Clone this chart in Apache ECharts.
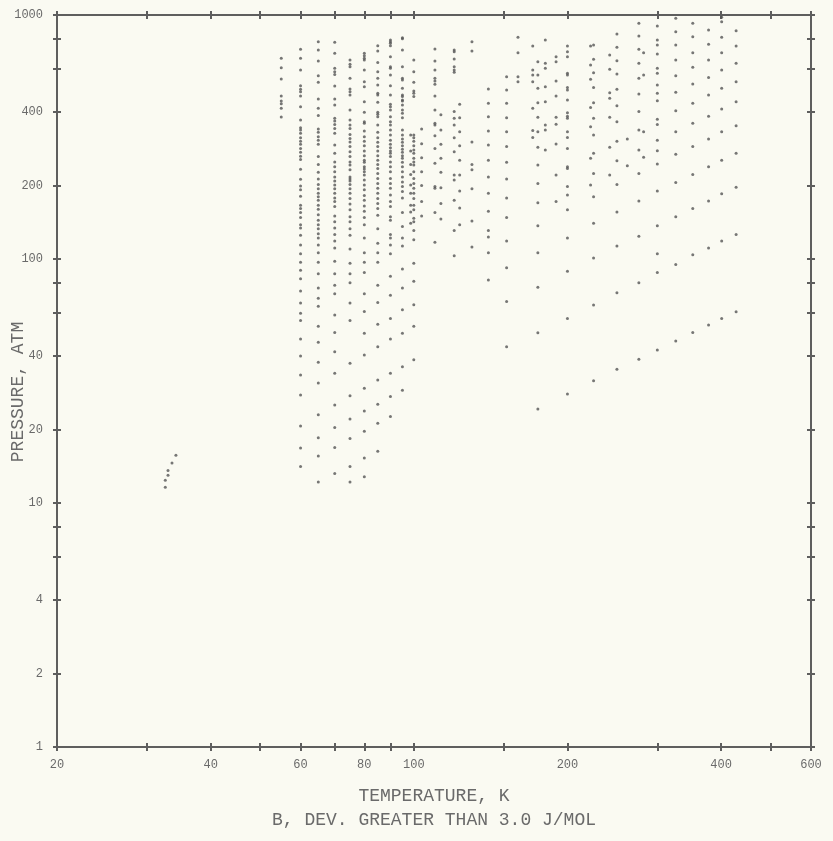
<!DOCTYPE html>
<html lang="en">
<head>
<meta charset="UTF-8">
<title>B, dev. greater than 3.0 J/mol</title>
<script src="https://cdn.jsdelivr.net/npm/echarts@6/dist/echarts.min.js"></script>
<style>
  html, body { margin: 0; padding: 0; background: #fafaf2; }
  #chart { width: 833px; height: 841px; }
</style>
</head>
<body>
<div id="chart"></div>
<script>
// tick and label positions
const xLabels = [20, 40, 60, 80, 100, 200, 400, 600];
const xTicks = [20, 30, 40, 50, 60, 70, 80, 90, 100, 150, 200, 300, 400, 500, 600];
const yLabels = [1, 2, 4, 10, 20, 40, 100, 200, 400, 1000];
const yTicks = [1, 2, 4, 6, 8, 10, 20, 40, 60, 80, 100, 200, 400, 600, 800, 1000];

// small group near 33 K
const lowT = [32.6, 32.6, 33, 33, 33.6, 34.2];
const lowP = [11.6, 12.4, 13, 13.6, 14.6, 15.7];

// pressures (atm) read along each isotherm
const p55 = [665, 608, 547, 466, 444, 433, 415, 382];
const p60 = [723, 665, 595, 513, 496, 485, 466, 421, 371, 345, 338, 328, 314, 304, 295, 284, 274, 264, 256, 233, 212, 199, 192, 181, 166, 161, 155, 148, 138, 134, 125, 114, 105, 97, 90, 83, 74, 66, 60, 56, 47, 40, 33.5, 27.7, 20.7, 16.8, 14.1];
const p65 = [777, 719, 648, 564, 530, 453, 415, 387, 341, 331, 317, 307, 295, 263, 244, 227, 213, 202, 194, 186, 180, 174, 166, 160, 152, 144, 138, 133, 127, 122, 114, 106, 97, 87, 76, 69, 64, 53, 45.6, 37.7, 31, 23, 18.5, 15.6, 12.2];
const p70 = [773, 697, 605, 586, 571, 512, 453, 428, 377, 368, 356, 343, 328, 293, 271, 250, 239, 228, 217, 209, 201, 194, 186, 178, 172, 164, 150, 142, 134, 126, 118.5, 111, 98, 87, 78, 72, 59, 50, 41.7, 34, 25.2, 20.4, 16.9, 13.2];
const p75 = [654, 628, 614, 550, 497, 485, 470, 408, 371, 354, 343, 324, 312, 302, 289, 275, 263, 250, 243, 232, 217, 213, 209, 202, 194, 186, 177, 168, 159, 149, 142, 133, 125, 110, 96, 87, 80, 66, 56, 37.4, 27.5, 22.1, 18.4, 14.1, 12.2];
const p80 = [697, 681, 665, 654, 595, 533, 508, 441, 399, 365, 360, 335, 317, 304, 291, 277, 265, 254, 249, 239, 234, 228, 221, 211, 201, 192, 182, 174, 165, 157, 148, 138, 122, 106, 97, 88, 72, 61, 49.6, 40.4, 29.5, 23.8, 19.7, 15.3, 12.8];
const p85 = [748, 712, 638, 586, 550, 517, 478, 470, 439, 399, 392, 383, 354, 331, 314, 301, 289, 277, 265, 254, 244, 235, 224, 214, 204, 195, 186, 177, 169, 161, 151, 133, 116, 106, 97, 78, 66.4, 54, 43.7, 31.9, 25.4, 21.2, 16.3];
const p90 = [790, 777, 766, 748, 675, 614, 605, 568, 513, 470, 431, 421, 408, 383, 365, 354, 338, 322, 307, 295, 286, 277, 271, 263, 250, 239, 228, 214, 204, 195, 183, 172, 164, 149, 144, 126, 122, 114, 105, 85, 71, 57, 47, 34, 27.3, 22.6];
const p95 = [807, 800, 719, 614, 550, 542, 501, 470, 463, 448, 444, 428, 408, 396, 379, 338, 322, 310, 301, 291, 282, 274, 265, 259, 249, 239, 228, 217, 207, 198, 189, 178, 155, 136, 122, 113, 91, 76, 62, 49.6, 36.2, 29];
const p98 = [322, 277, 244, 222, 201, 186, 166, 156, 140];
const p100 = [654, 586, 530, 488, 478, 463, 322, 314, 304, 291, 280, 271, 259, 250, 243, 228, 214, 204, 195, 186, 177, 166, 159, 147, 142, 131, 120, 96, 81, 65, 53, 38.6];
const p104 = [341, 297, 260, 228, 200, 172, 150];
const p110 = [725, 648, 595, 550, 536, 520, 466, 408, 360, 354, 320, 284, 247, 198, 195, 155, 117];
const p113 = [390, 338, 295, 259, 227, 196, 169, 146];
const p120 = [719, 707, 660, 614, 595, 582, 402, 377, 354, 314, 275, 221, 211, 174, 131, 103];
const p123 = [431, 379, 332, 291, 254, 221, 190, 162, 138];
const p130 = [777, 712, 302, 244, 232, 194, 143, 112];
const p140 = [497, 435, 383, 335, 293, 254, 217, 186, 157, 131, 123, 106, 82];
const p152 = [559, 493, 435, 379, 332, 289, 249, 213, 178, 148, 118.5, 92, 67, 43.7];
const p160 = [810, 701, 559, 533];
const p171 = [746, 595, 568, 533, 415, 336, 315];
const p175 = [644, 568, 501, 437, 381, 332, 287, 243, 204, 170, 137, 106, 76.6, 49.9, 24.3];
const p181 = [790, 634, 605, 508, 441, 354, 338, 280];
const p190 = [675, 644, 536, 466, 381, 357, 296, 221, 172];
const p200 = [746, 707, 675, 577, 568, 505, 493, 448, 398, 385, 377, 332, 315, 284, 239, 235, 198, 183, 159, 122, 89, 57, 28];
const p222 = [746, 624, 545, 418, 348, 259, 201];
const p225 = [754, 658, 580, 505, 437, 377, 322, 271, 224, 180, 140, 101, 64.8, 31.7];
const p242 = [686, 599, 480, 456, 381, 287, 221];
const p250 = [836, 737, 650, 573, 496, 425, 365, 304, 253, 202, 156, 113, 72.8, 35.3];
const p262 = [310, 241];
const p276 = [925, 820, 723, 634, 550, 475, 402, 338, 280, 224, 173, 124, 80, 38.8];
const p282 = [701, 568, 332, 261];
const p300 = [901, 790, 754, 692, 605, 577, 517, 478, 445, 374, 356, 307, 278, 245, 190, 137, 105, 88, 42.4];
const p326 = [969, 854, 754, 654, 564, 482, 405, 332, 269, 206, 149, 95, 46.1];
const p352 = [925, 815, 701, 611, 521, 435, 360, 289, 222, 161, 104, 50];
const p378 = [868, 758, 654, 555, 470, 385, 310, 239, 173, 111, 53.6];
const p401 = [979, 939, 810, 701, 595, 501, 412, 332, 254, 185, 118.5, 57];
const p428 = [862, 746, 634, 533, 441, 352, 271, 197, 126, 60.8];

const isotherms = [
    [55, p55], [60, p60], [65, p65], [70, p70], [75, p75], [80, p80], [85, p85],
    [90, p90], [95, p95], [98.6, p98], [100, p100], [103.6, p104], [110, p110],
    [113, p113], [120, p120], [123, p123], [130, p130], [140, p140], [152, p152],
    [160, p160], [171, p171], [175, p175], [181, p181], [190, p190], [200, p200],
    [222, p222], [225, p225], [242, p242], [250, p250], [262, p262], [276, p276],
    [282, p282], [300, p300], [326, p326], [352, p352], [378, p378], [401, p401],
    [428, p428]
];

let points = [];
lowT.forEach((t, i) => points.push([t, lowP[i]]));
isotherms.forEach(([t, ps]) => ps.forEach(p => points.push([t, p])));

const ink = '#5e5e5e';
const textInk = '#6a6a6a';

function xAxisOf(position, inside, labels) {
    return {
        type: 'log', logBase: 10, min: 20, max: 600, position: position,
        axisLine: { show: true, onZero: false, lineStyle: { color: ink, width: 2 } },
        axisTick: { show: true, inside: inside, length: 4, customValues: xTicks,
                    lineStyle: { color: ink, width: 2 } },
        axisLabel: { show: labels, customValues: xLabels, margin: 12,
                     color: textInk, fontSize: 12, fontFamily: 'Liberation Mono',
                     formatter: v => String(v) },
        splitLine: { show: false }
    };
}
function yAxisOf(position, inside, labels) {
    return {
        type: 'log', logBase: 10, min: 1, max: 1000, position: position,
        axisLine: { show: true, onZero: false, lineStyle: { color: ink, width: 2 } },
        axisTick: { show: true, inside: inside, length: 4, customValues: yTicks,
                    lineStyle: { color: ink, width: 2 } },
        axisLabel: { show: labels, customValues: yLabels, margin: 14,
                     color: textInk, fontSize: 12, fontFamily: 'Liberation Mono',
                     formatter: v => String(v) },
        splitLine: { show: false }
    };
}

const chart = echarts.init(document.getElementById('chart'));
chart.setOption({
    backgroundColor: '#fafaf2',
    animation: false,
    grid: { left: 57, right: 22, top: 15, bottom: 94, containLabel: false, outerBoundsMode: 'none' },
    xAxis: [xAxisOf('bottom', false, true), xAxisOf('bottom', true, false),
            xAxisOf('top', false, false), xAxisOf('top', true, false)],
    yAxis: [yAxisOf('left', false, true), yAxisOf('left', true, false),
            yAxisOf('right', false, false), yAxisOf('right', true, false)],
    series: [{
        type: 'scatter', xAxisIndex: 0, yAxisIndex: 0,
        symbol: 'circle', symbolSize: 3, silent: true,
        itemStyle: { color: '#555555' },
        data: points
    }],
    graphic: [
        { type: 'text', x: 434, y: 796,
          style: { text: 'TEMPERATURE, K', font: '18px "Liberation Mono"', fill: textInk,
                   textAlign: 'center', textVerticalAlign: 'middle', align: 'center', verticalAlign: 'middle' } },
        { type: 'text', x: 434, y: 820,
          style: { text: 'B, DEV. GREATER THAN 3.0 J/MOL', font: '18px "Liberation Mono"', fill: textInk,
                   textAlign: 'center', textVerticalAlign: 'middle', align: 'center', verticalAlign: 'middle' } },
        { type: 'text', x: 18, y: 392, rotation: Math.PI / 2,
          style: { text: 'PRESSURE, ATM', font: '18px "Liberation Mono"', fill: textInk,
                   textAlign: 'center', textVerticalAlign: 'middle', align: 'center', verticalAlign: 'middle' } }
    ]
});
</script>
</body>
</html>
